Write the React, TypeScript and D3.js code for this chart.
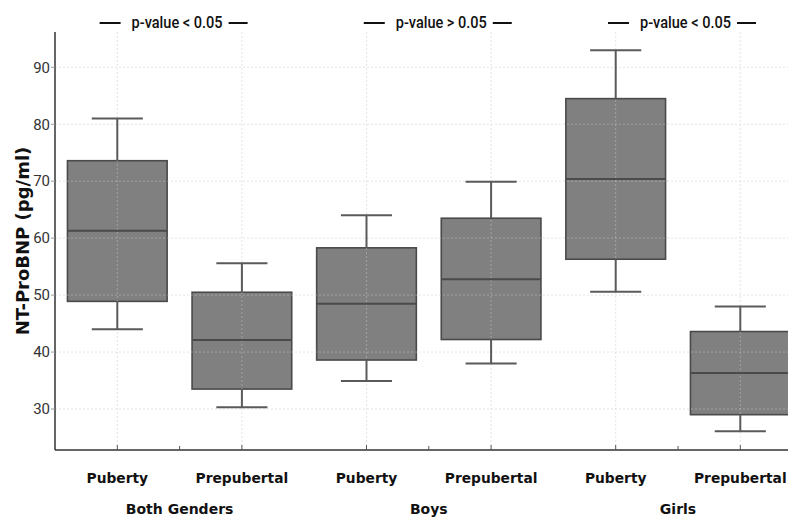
import React from "react";
import { scaleBand, scaleLinear } from "d3";

// box plot stats (pg/ml)
const groups = ["Both Genders", "Boys", "Girls"];
const stages = ["Puberty", "Prepubertal"];
const whiskerLow = [44.0, 30.3, 34.9, 38.0, 50.6, 26.1];
const q1 = [48.9, 33.5, 38.6, 42.2, 56.3, 29.0];
const medians = [61.3, 42.1, 48.5, 52.8, 70.4, 36.3];
const q3 = [73.6, 50.5, 58.3, 63.5, 84.5, 43.6];
const whiskerHigh = [81.0, 55.6, 64.0, 69.9, 93.0, 48.0];
const yTicks = [30, 40, 50, 60, 70, 80, 90];
const pValues = ["p-value < 0.05", "p-value > 0.05", "p-value < 0.05"];
// where each annotation text sits, in box-index units
const pValuePos = [0.48, 2.6, 4.56];

const W = 788;
const H = 517;
const left = 55;
const top = 32;
const bottom = 450;

const boxes = groups.flatMap((g, gi) =>
  stages.map((s, si) => {
    const i = gi * 2 + si;
    return {
      id: g + "_" + s,
      stage: s,
      lo: whiskerLow[i],
      q1: q1[i],
      med: medians[i],
      q3: q3[i],
      hi: whiskerHigh[i],
    };
  })
);

export default function App() {
  const xScale = scaleBand()
    .domain(boxes.map((d) => d.id))
    .range([left, left + 6 * 124.6])
    .padding(0);
  const bw = xScale.bandwidth();
  const cx = (id: string) => (xScale(id) as number) + bw / 2;
  const idxX = (v: number) => left + bw / 2 + v * bw;
  const yScale = scaleLinear().domain([22.8, 96.2]).range([bottom, top]);
  const boxW = bw * 0.8;
  const capW = bw * 0.41;

  const tickFont = "Roboto, 'DejaVu Sans', sans-serif";
  const boldFont = "'DejaVu Sans', Verdana, sans-serif";

  return (
    <svg
      width={W}
      height={H}
      style={{ position: "absolute", left: 0, top: 0, background: "#fff" }}
    >
      {/* box bodies */}
      {boxes.map((d) => {
        const x = cx(d.id);
        return (
          <rect
            key={"b" + d.id}
            x={x - boxW / 2}
            y={yScale(d.q3)}
            width={boxW}
            height={yScale(d.q1) - yScale(d.q3)}
            fill="#808080"
            stroke="#4a4a4a"
            strokeWidth={1.6}
          />
        );
      })}

      {/* grid over the boxes, faint */}
      {yTicks.map((t) => (
        <line key={"gy" + t} x1={left} x2={W} y1={yScale(t)} y2={yScale(t)} stroke="#c8c8c8" strokeWidth={0.8} strokeDasharray="2,2" opacity={0.6} />
      ))}
      {boxes.map((d) => (
        <line key={"gx" + d.id} x1={cx(d.id)} x2={cx(d.id)} y1={top} y2={bottom} stroke="#c8c8c8" strokeWidth={0.8} strokeDasharray="2,2" opacity={0.6} />
      ))}

      {/* whiskers and medians */}
      {boxes.map((d) => {
        const x = cx(d.id);
        return (
          <g key={"w" + d.id}>
            <line x1={x} x2={x} y1={yScale(d.hi)} y2={yScale(d.q3)} stroke="#5a5a5a" strokeWidth={2} />
            <line x1={x} x2={x} y1={yScale(d.q1)} y2={yScale(d.lo)} stroke="#5a5a5a" strokeWidth={2} />
            <line x1={x - capW / 2} x2={x + capW / 2} y1={yScale(d.hi)} y2={yScale(d.hi)} stroke="#5a5a5a" strokeWidth={2} />
            <line x1={x - capW / 2} x2={x + capW / 2} y1={yScale(d.lo)} y2={yScale(d.lo)} stroke="#5a5a5a" strokeWidth={2} />
            <line x1={x - boxW / 2} x2={x + boxW / 2} y1={yScale(d.med)} y2={yScale(d.med)} stroke="#4a4a4a" strokeWidth={2} />
          </g>
        );
      })}

      {/* axes */}
      <line x1={left} x2={left} y1={top} y2={bottom} stroke="#333" strokeWidth={1.5} />
      <line x1={left} x2={W} y1={bottom} y2={bottom} stroke="#333" strokeWidth={1.5} />
      {yTicks.map((t) => (
        <g key={"ty" + t} transform={`translate(${left}, ${yScale(t)})`}>
          <line x1={-4} x2={0} stroke="#999" strokeWidth={1} />
          <text x={-5} dy="0.35em" textAnchor="end" fontFamily={tickFont} fontSize={15} fill="#333">
            {t}
          </text>
        </g>
      ))}
      {boxes.map((d) => (
        <g key={"tx" + d.id} transform={`translate(${cx(d.id)}, ${bottom})`}>
          <line y1={0} y2={-5} stroke="#555" strokeWidth={1} />
          <text y={28} dy="0.35em" textAnchor="middle" fontFamily={boldFont} fontWeight="bold" fontSize={13.8} fill="#111">
            {d.stage}
          </text>
        </g>
      ))}
      {groups.map((g, gi) => (
        <g key={"grp" + g} transform={`translate(${idxX(gi * 2 + 0.5)}, ${bottom})`}>
          <line y1={0} y2={-4} stroke="#555" strokeWidth={1} />
          <text y={59} dy="0.35em" textAnchor="middle" fontFamily={boldFont} fontWeight="bold" fontSize={14} fill="#111">
            {g}
          </text>
        </g>
      ))}

      {/* y label */}
      <text
        transform={`translate(23, ${(top + bottom) / 2}) rotate(-90)`}
        dy="0.35em"
        textAnchor="middle"
        fontFamily={boldFont}
        fontWeight="bold"
        fontSize={18}
        fill="#111"
      >
        NT-ProBNP (pg/ml)
      </text>

      {/* p-value annotations */}
      {pValues.map((p, i) => {
        const c = idxX(pValuePos[i]);
        const tw = 91;
        return (
          <g key={"p" + i}>
            <line x1={c - tw / 2 - 32} x2={c - tw / 2 - 11} y1={23} y2={23} stroke="#111" strokeWidth={2} />
            <line x1={c + tw / 2 + 6} x2={c + tw / 2 + 25} y1={23} y2={23} stroke="#111" strokeWidth={2} />
            <text x={c} y={28} textAnchor="middle" fontFamily={tickFont} fontWeight={500} fontSize={16} textLength={tw} lengthAdjust="spacingAndGlyphs" fill="#111">
              {p}
            </text>
          </g>
        );
      })}
    </svg>
  );
}
